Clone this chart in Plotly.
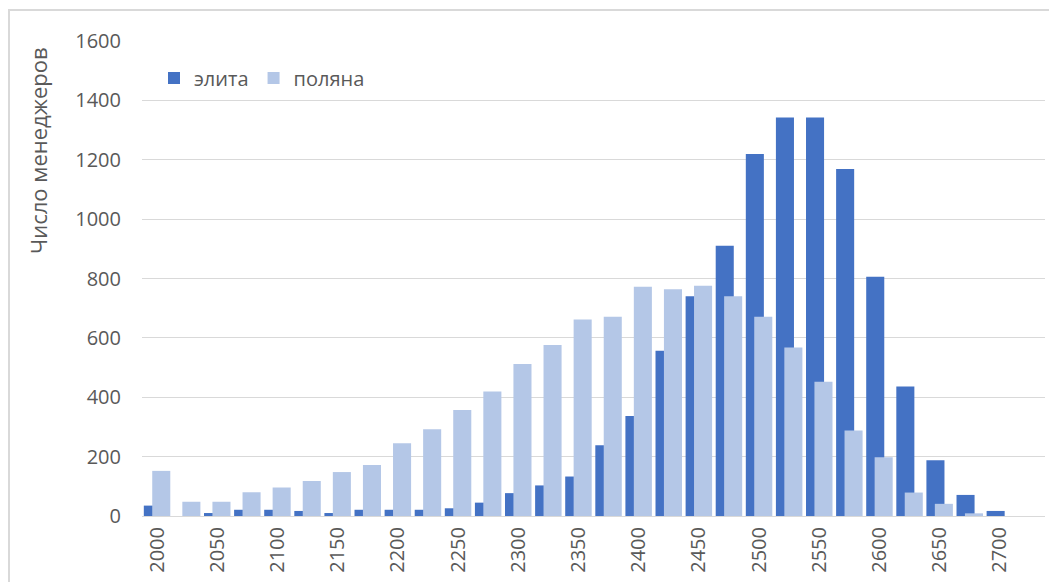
import plotly.graph_objects as go

categories = [str(v) for v in range(2000, 2726, 25)]
elita = [35, 0, 10, 21, 21, 17, 10, 21, 21, 21, 26, 45, 77, 103, 133, 238, 337, 557,
         740, 910, 1219, 1342, 1342, 1169, 806, 436, 188, 71, 17, None]
polyana = [152, 48, 48, 80, 96, 118, 148, 172, 245, 292, 357, 419, 512, 576, 662, 671,
           772, 764, 776, 740, 671, 568, 452, 288, 198, 79, 41, 9, 0, None]
tick_labels = [str(v) for v in range(2000, 2701, 50)]
y_ticks = [0, 200, 400, 600, 800, 1000, 1200, 1400, 1600]
y_title = "Число менеджеров"

FONT = "Open Sans"
GREY = "#595959"

fig = go.Figure()
fig.add_trace(go.Bar(x=categories, y=elita, name="элита", marker_color="#4472C4",
                     width=0.6, offset=-0.44, marker_line_width=0))
fig.add_trace(go.Bar(x=categories, y=polyana, name="поляна", marker_color="#B4C7E7",
                     width=0.6, offset=-0.16, marker_line_width=0))

W, H = 1057, 582
L, R, T, B = 134, 20, 33, 74
pw, ph = W - L - R, H - T - B

fig.update_layout(
    width=W, height=H,
    margin=dict(l=L, r=R, t=T, b=B, pad=0),
    barmode="overlay",
    plot_bgcolor="white", paper_bgcolor="white",
    font=dict(family=FONT, size=20, color=GREY),
    showlegend=True,
    legend=dict(orientation="h", x=(146 - L) / pw, y=1 - (70 - T) / ph,
                xanchor="left", yanchor="middle", font=dict(size=20, color=GREY),
                bgcolor="rgba(0,0,0,0)", traceorder="normal"),
    xaxis=dict(type="category", tickmode="array", tickvals=tick_labels, ticktext=tick_labels,
               tickangle=-90, showgrid=False, showline=False, ticks="",
               ticklabelstandoff=6,
               tickfont=dict(size=20, color=GREY), range=[-0.5, len(categories) - 0.5]),
    yaxis=dict(range=[0, 1600], tickvals=y_ticks, showgrid=True, gridcolor="#d9d9d9",
               gridwidth=1, zeroline=True, zerolinecolor="#d9d9d9", zerolinewidth=1,
               ticks="", ticklabelstandoff=20, tickfont=dict(size=20, color=GREY)),
    annotations=[dict(text=y_title, textangle=-90, showarrow=False,
                      xref="paper", yref="paper",
                      x=(30 - L) / pw, y=1 - (143 - T) / ph,
                      xanchor="center", yanchor="middle",
                      font=dict(size=22, color=GREY))],
    shapes=[dict(type="rect", xref="paper", yref="paper",
                 x0=(1 - L) / pw, x1=1.2, y0=-0.3, y1=1 + (T - 2) / ph,
                 line=dict(color="#d9d9d9", width=2), fillcolor="rgba(0,0,0,0)", layer="below")],
)

fig.write_html("out.html")
